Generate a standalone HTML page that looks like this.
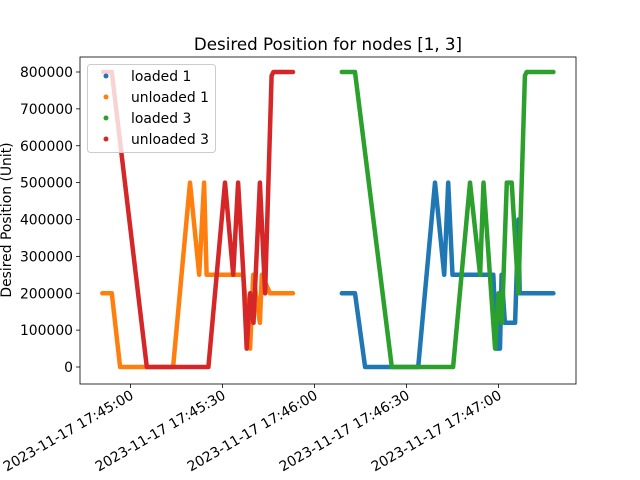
<!DOCTYPE html>
<html><head><meta charset="utf-8"><style>
body{margin:0;background:#fff;}
svg{display:block;font-family:"DejaVu Sans","Liberation Sans",sans-serif;}
</style></head><body>
<svg id="chart" width="640" height="480"></svg>
<script>
const seriesNames=["loaded 1","unloaded 1","loaded 3","unloaded 3"];
const seriesColors=["#1f77b4","#ff7f0e","#2ca02c","#d62728"];
// time in seconds relative to 17:45:00
const loaded1T=[68.9,73.2,76.5,93.8,99.3,102.3,103.6,105,118.3,119.4,120.5,121,122.1,125.4,126.5,126.9,137.9];
const loaded1V=[200000,200000,0,0,500000,250000,500000,250000,250000,50000,50000,250000,120000,120000,400000,200000,200000];
const unloaded1T=[-9.2,-6.1,-3.4,13.9,19.4,22.4,24,24.8,36.7,39,40,42.2,42.8,45.5,53];
const unloaded1V=[200000,200000,0,0,500000,250000,500000,250000,250000,50000,250000,120000,250000,200000,200000];
const loaded3T=[68.9,73.2,85.2,105.2,110.7,114,115.1,117.2,118.9,120,121.1,122.7,124.3,126.5,128.6,129.2,137.9];
const loaded3V=[800000,800000,0,0,500000,250000,500000,250000,50000,200000,120000,500000,500000,200000,790000,800000,800000];
const unloaded3T=[-8.9,-6.1,5.3,25.4,30.8,33.5,35.1,36.8,37.9,39,40.1,42.2,43.9,46,46.6,53];
const unloaded3V=[800000,800000,0,0,500000,250000,500000,250000,50000,200000,120000,500000,200000,790000,800000,800000];
const yTicks=[0,100000,200000,300000,400000,500000,600000,700000,800000];
const xTicks=[0,30,60,90,120];
const xTickLabels=["2023-11-17 17:45:00","2023-11-17 17:45:30","2023-11-17 17:46:00","2023-11-17 17:46:30","2023-11-17 17:47:00"];

const NS="http://www.w3.org/2000/svg";
const svg=document.getElementById('chart');
const L=80,R=576,T=57,B=384;
const xs=t=>130.5+t*92/30;
const ys=v=>367-v*295/800000;
function mk(tag,attrs,parent){const e=document.createElementNS(NS,tag);for(const k in attrs)e.setAttribute(k,attrs[k]);(parent||svg).appendChild(e);return e;}

const title=mk('text',{x:328,y:50,'text-anchor':'middle','font-size':16.7,fill:'#000'});
title.textContent="Desired Position for nodes [1, 3]";



const yl=mk('text',{x:0,y:0,transform:'translate(11,220) rotate(-90)','text-anchor':'middle','font-size':13.9});
yl.textContent="Desired Position (Unit)";



yTicks.forEach(v=>{
  const y=ys(v);
  mk('line',{x1:L-4,x2:L,y1:y,y2:y,stroke:'#000','stroke-width':0.8});
  const t=mk('text',{x:L-7,y:y+5,'text-anchor':'end','font-size':13.9});
  t.textContent=String(v);
  
  
});
xTicks.forEach((s,i)=>{
  const x=xs(s);
  mk('line',{x1:x,x2:x,y1:B,y2:B+4,stroke:'#000','stroke-width':0.8});
  const t=mk('text',{x:0,y:0,transform:`translate(${x+4},${B+14}) rotate(-30)`,'text-anchor':'end','font-size':13.9});
  t.textContent=xTickLabels[i];
  
  
});

const allT=[loaded1T,unloaded1T,loaded3T,unloaded3T];
const allV=[loaded1V,unloaded1V,loaded3V,unloaded3V];
allT.forEach((ts,i)=>{
  const pts=ts.map((t,j)=>xs(t).toFixed(1)+','+ys(allV[i][j]).toFixed(1)).join(' ');
  const p=mk('polyline',{points:pts,fill:'none',stroke:seriesColors[i],'stroke-width':4.5,'stroke-linejoin':'round','stroke-linecap':'round'});
  
  
});

const frame=mk('rect',{x:L,y:T,width:R-L,height:B-T,fill:'none',stroke:'#000','stroke-width':0.8});



const lg=mk('g',{});


mk('rect',{x:87.5,y:64.5,width:128,height:88,rx:3,fill:'#fff','fill-opacity':0.8,stroke:'#ccc'},lg);
seriesNames.forEach((n,i)=>{
  const y=76+i*21;
  mk('circle',{cx:106,cy:y,r:2.5,fill:seriesColors[i]},lg);
  const t=mk('text',{x:131,y:y+5,'font-size':13.9},lg);
  t.textContent=n;
  
  
});
</script>
</body></html>
